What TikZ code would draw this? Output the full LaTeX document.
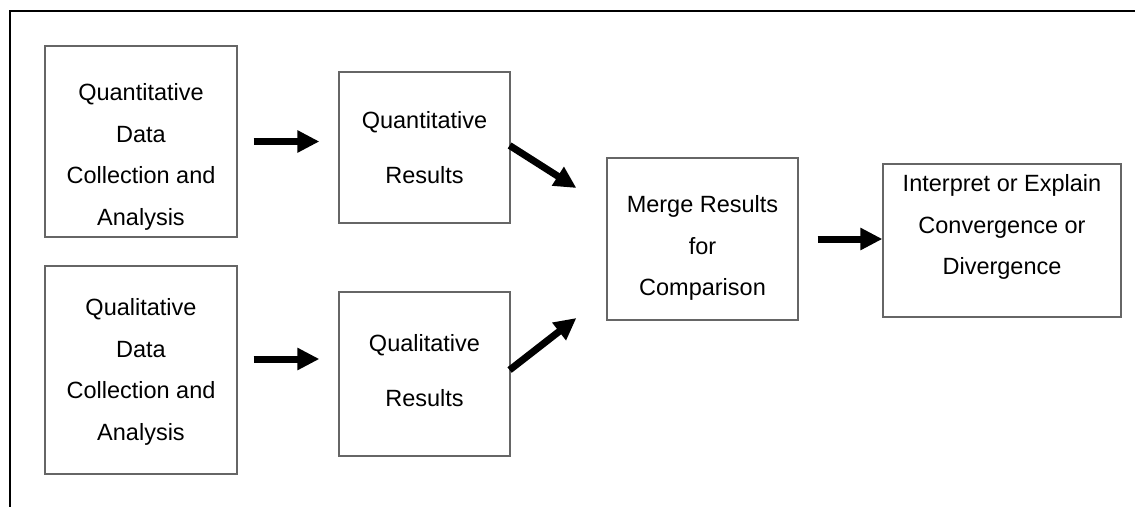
\documentclass[tikz,border=0pt]{standalone}
\usepackage{fontspec}
\setmainfont{Liberation Sans}
\usetikzlibrary{arrows.meta}
\tikzset{
  box/.style={draw=black!60, line width=1.2pt, inner sep=0pt},
  txt/.style={align=center, inner sep=0pt, font=\fontsize{23.5}{41.5}\selectfont},
  txtwide/.style={align=center, inner sep=0pt, font=\fontsize{23.5}{55}\selectfont},
  arr/.style={line width=7pt, -{Triangle[length=22pt,width=21pt]}},
  frame/.style={line width=2pt, black}
}
\begin{document}
\begin{tikzpicture}[x=1pt,y=-1pt]
\useasboundingbox (0,0) rectangle (1135,507);
\fill[white] (0,0) rectangle (1135,507);
% outer frame (top and left)
\coordinate (fTR) at (1135,10.5);
\coordinate (fTL) at (10,10.5);
\coordinate (fBL) at (10,507);
\draw[frame] (fTR) -- (fTL) -- (fBL);
% boxes
\node[box, minimum width=192pt, minimum height=191pt] (A) at (141,141.5) {};
\node[box, minimum width=192pt, minimum height=208pt] (B) at (141,370) {};
\node[box, minimum width=171pt, minimum height=151pt] (C) at (424.5,147.5) {};
\node[box, minimum width=171pt, minimum height=164pt] (D) at (424.5,374) {};
\node[box, minimum width=191pt, minimum height=162pt] (E) at (702.5,239) {};
\node[box, minimum width=238pt, minimum height=153pt] (F) at (1002,240.5) {};
% texts
\node[txt] (At) at (141,157) {Quantitative\\Data\\Collection and\\Analysis};
\node[txt] (Bt) at (141,372) {Qualitative\\Data\\Collection and\\Analysis};
\node[txtwide] (Ct) at (424.5,148) {Quantitative\\Results};
\node[txtwide] (Dt) at (424.5,371) {Qualitative\\Results};
\node[txt] (Et) at (702.5,248) {Merge Results\\for\\Comparison};
\node[txt] (Ft) at (1002,227) {Interpret or Explain\\Convergence or\\Divergence};
% arrows
\draw[arr] ([xshift=16pt]A.east) -- ([xshift=-19pt]A.east -| C.west);
\draw[arr] ([xshift=16pt,yshift=11pt]B.east) -- ([xshift=-19pt,yshift=11pt]B.east -| D.west);
\draw[arr] ([xshift=-1pt,yshift=2pt]C.east) -- ([xshift=-30pt,yshift=51pt]E.west);
\draw[arr] ([xshift=-1pt,yshift=4pt]D.east) -- ([xshift=-30pt,yshift=-79pt]E.west);
\draw[arr] ([xshift=19pt]E.east) -- ([yshift=1.5pt]F.west);
\end{tikzpicture}
\end{document}
